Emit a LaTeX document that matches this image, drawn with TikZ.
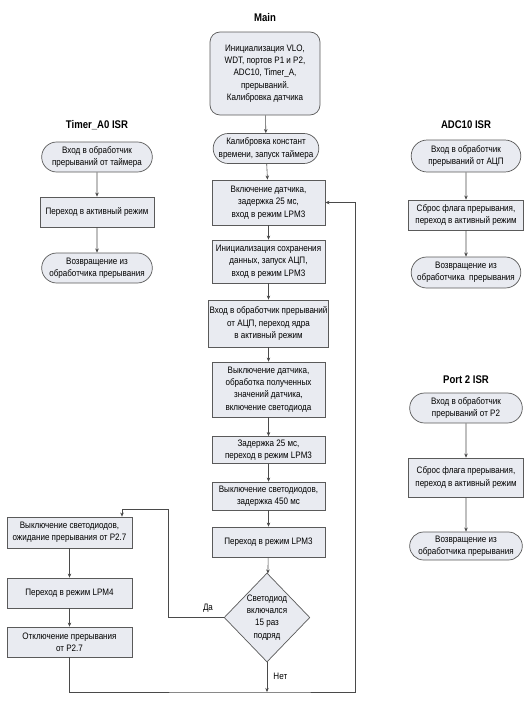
\documentclass[tikz,border=0pt]{standalone}
\usepackage{fontspec}
\setmainfont{Liberation Sans}[FakeStretch=0.86]
\usetikzlibrary{arrows.meta, positioning, shapes.geometric, shapes.misc}
\definecolor{boxfill}{HTML}{E9EBF1}
\definecolor{boxline}{HTML}{5A5A5A}
\definecolor{wire}{HTML}{4A4A4A}
\tikzset{
    blk/.style={draw=boxline, fill=boxfill, rectangle, align=center, inner sep=1pt, line width=0.6pt},
    term/.style={draw=boxline, fill=boxfill, rounded rectangle, align=center, inner sep=1pt, line width=0.6pt},
    flow/.style={draw=wire, line width=0.5pt, -{Stealth[length=3.5pt, width=3pt]}},
    wirel/.style={draw=wire, line width=0.5pt},
    ttl/.style={font=\bfseries\fontsize{9.5}{11}\selectfont}
}
\begin{document}
\begin{tikzpicture}[x=0.03cm, y=-0.03cm, font=\fontsize{8}{10.5}\selectfont]
    \useasboundingbox (0,0) rectangle (530,701);
    % Main
    \node[ttl] (mainT) at (265,18) {Main};
    \node[blk, rounded corners=0.3cm, minimum width=110*0.03cm, minimum height=83*0.03cm] (init) at (265,73.5)
        {Инициализация VLO,\\WDT, портов P1 и P2,\\ADC10, Timer\_A,\\прерываний.\\Калибровка датчика};
    \node[term, minimum width=108*0.03cm, minimum height=30*0.03cm] (calib) at (266,148.5)
        {Калибровка констант\\времени, запуск таймера};
    \node[blk, minimum width=113*0.03cm, minimum height=45*0.03cm] (s1) at (268.5,202.5)
        {Включение датчика,\\задержка 25 мс,\\вход в режим LPM3};
    \node[blk, minimum width=113*0.03cm, minimum height=43*0.03cm] (s2) at (268.5,261.5)
        {Инициализация сохранения\\данных, запуск АЦП,\\вход в режим LPM3};
    \node[blk, minimum width=113*0.03cm, minimum height=47*0.03cm] (s3) at (268.5,323.5)
        {Вход в обработчик прерываний\\от АЦП, переход ядра\\в активный режим};
    \node[blk, minimum width=113*0.03cm, minimum height=55*0.03cm] (s4) at (268.5,389.5)
        {Выключение датчика,\\обработка полученных\\значений датчика,\\включение светодиода};
    \node[blk, minimum width=113*0.03cm, minimum height=27*0.03cm] (s5) at (268.5,450)
        {Задержка 25 мс,\\переход в режим LPM3};
    \node[blk, minimum width=113*0.03cm, minimum height=28*0.03cm] (s6) at (268.5,496)
        {Выключение светодиодов,\\задержка 450 мс};
    \node[blk, minimum width=113*0.03cm, minimum height=30*0.03cm] (s7) at (268.5,542)
        {Переход в режим LPM3};
    \node[blk, diamond, inner sep=0pt, minimum width=84*0.03cm, minimum height=89*0.03cm] (dec) at (267,617.5)
        {Светодиод\\включался\\15 раз\\подряд};
    \draw[flow] (init) -- (calib);
    \draw[flow] (calib) -- (s1);
    \foreach \a/\b in {s1/s2, s2/s3, s3/s4, s4/s5, s5/s6, s6/s7, s7/dec} {
        \draw[flow] (\a) -- (\b);
    }
    % ветка Да
    \node[blk, minimum width=125*0.03cm, minimum height=31*0.03cm] (l1) at (69.5,532.5)
        {Выключение светодиодов,\\ожидание прерывания от P2.7};
    \node[blk, minimum width=125*0.03cm, minimum height=30*0.03cm] (l2) at (69.5,593)
        {Переход в режим LPM4};
    \node[blk, minimum width=125*0.03cm, minimum height=30*0.03cm] (l3) at (69.5,642)
        {Отключение прерывания\\от P2.7};
    \draw[flow] (l1) -- (l2);
    \draw[flow] (l2) -- (l3);
    \coordinate (yb) at (168,509);
    \coordinate (yt) at (122,509);
    \draw[flow] (dec.west) -| (yb) -- (yt) -- (yt |- l1.north);
    \node (yes) at (208,608) {Да};
    % возврат в цикл
    \coordinate (jn) at (267,692);
    \coordinate (rt) at (355,692);
    \draw[flow] (dec.south) -- (jn);
    \node[right=2pt of dec.south, yshift=-0.42cm] (no) {Нет};
    \draw[flow] (l3.south) |- (jn) -- (rt) |- (s1.east);
    % Timer_A0 ISR
    \node[ttl] (timT) at (97,125) {Timer\_A0 ISR};
    \node[term, minimum width=113*0.03cm, minimum height=30*0.03cm] (t1) at (97,157)
        {Вход в обработчик\\прерываний от таймера};
    \node[blk, minimum width=114*0.03cm, minimum height=30*0.03cm] (t2) at (97,212)
        {Переход в активный режим};
    \node[term, minimum width=113*0.03cm, minimum height=30*0.03cm] (t3) at (97,268)
        {Возвращение из\\обработчика прерывания};
    \draw[flow] (t1) -- (t2);
    \draw[flow] (t2) -- (t3);
    % ADC10 ISR
    \node[ttl] (adcT) at (466,125) {ADC10 ISR};
    \node[term, minimum width=112*0.03cm, minimum height=32*0.03cm] (a1) at (466,156)
        {Вход в обработчик\\прерываний от АЦП};
    \node[blk, minimum width=115*0.03cm, minimum height=30*0.03cm] (a2) at (466,215)
        {Сброс флага прерывания,\\переход в активный режим};
    \node[term, minimum width=112*0.03cm, minimum height=31*0.03cm] (a3) at (466,272.5)
        {Возвращение из\\обработчика~ прерывания};
    \draw[flow] (a1) -- (a2);
    \draw[flow] (a2) -- (a3);
    % Port 2 ISR
    \node[ttl] (prtT) at (466,380) {Port 2 ISR};
    \node[term, minimum width=115*0.03cm, minimum height=30*0.03cm] (p1) at (466,408)
        {Вход в обработчик\\прерываний от P2};
    \node[blk, minimum width=115*0.03cm, minimum height=39*0.03cm] (p2) at (466,477.5)
        {Сброс флага прерывания,\\переход в активный режим};
    \node[term, minimum width=115*0.03cm, minimum height=28*0.03cm] (p3) at (466,546)
        {Возвращение из\\обработчика прерывания};
    \draw[flow] (p1) -- (p2);
    \draw[flow] (p2) -- (p3);
\end{tikzpicture}
\end{document}
